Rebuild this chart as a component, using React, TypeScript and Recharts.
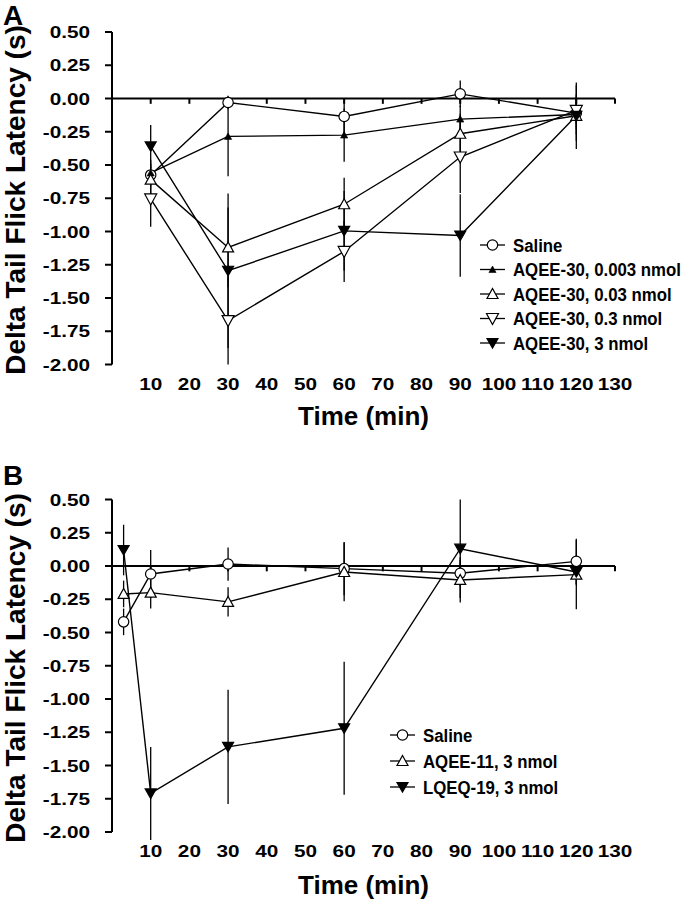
import React from "react";
import { ErrorBar, Line, LineChart, ReferenceLine, XAxis, YAxis } from "recharts";

const FONT = '"Liberation Sans", Arial, Helvetica, sans-serif';

// panel A: AQEE-30 dose series, time in min
const TIMES_A = [10, 30, 60, 90, 120];
const SALINE_A = [-0.575, -0.03, -0.135, 0.035, -0.11];
const SALINE_A_SEM = [0.06, 0.05, 0.13, 0.1, 0.21];
const AQEE30_0003 = [-0.56, -0.285, -0.275, -0.155, -0.12];
const AQEE30_0003_SEM = [0.1, 0.3, 0.2, 0.1, 0.15];
const AQEE30_003 = [-0.61, -1.12, -0.795, -0.265, -0.13];
const AQEE30_003_SEM = [0.12, 0.3, 0.2, 0.15, 0.1];
const AQEE30_03 = [-0.755, -1.67, -1.15, -0.44, -0.09];
const AQEE30_03_SEM = [0.21, 0.33, 0.23, 0.27, 0.1];
const AQEE30_3 = [-0.36, -1.295, -0.995, -1.03, -0.13];
const AQEE30_3_SEM = [0.16, 0.58, 0.3, 0.31, 0.25];

// panel B
const TIMES_B = [3, 10, 30, 60, 90, 120];
const SALINE_B = [-0.42, -0.06, 0.015, -0.02, -0.055, 0.035];
const SALINE_B_SEM = [0.1, 0.18, 0.125, 0.2, 0.1, 0.17];
const AQEE11_3 = [-0.21, -0.2, -0.27, -0.045, -0.105, -0.065];
const AQEE11_3_SEM = [0.1, 0.12, 0.11, 0.22, 0.17, 0.26];
const LQEQ19_3 = [0.12, -1.71, -1.36, -1.22, 0.13, -0.045];
const LQEQ19_3_SEM = [0.19, 0.35, 0.43, 0.5, 0.37, 0.1];

const X_TICKS = [10, 20, 30, 40, 50, 60, 70, 80, 90, 100, 110, 120, 130];
const Y_TICKS = [0.5, 0.25, 0, -0.25, -0.5, -0.75, -1, -1.25, -1.5, -1.75, -2];

type Kind = "circle" | "triSmall" | "triUp" | "triDown" | "triDownFilled";

const SERIES_A = [
  { key: "saline", name: "Saline", kind: "circle" as Kind, vals: SALINE_A, sem: SALINE_A_SEM },
  { key: "a0003", name: "AQEE-30, 0.003 nmol", kind: "triSmall" as Kind, vals: AQEE30_0003, sem: AQEE30_0003_SEM },
  { key: "a003", name: "AQEE-30, 0.03 nmol", kind: "triUp" as Kind, vals: AQEE30_003, sem: AQEE30_003_SEM },
  { key: "a03", name: "AQEE-30, 0.3 nmol", kind: "triDown" as Kind, vals: AQEE30_03, sem: AQEE30_03_SEM },
  { key: "a3", name: "AQEE-30, 3 nmol", kind: "triDownFilled" as Kind, vals: AQEE30_3, sem: AQEE30_3_SEM },
];

const SERIES_B = [
  { key: "saline", name: "Saline", kind: "circle" as Kind, vals: SALINE_B, sem: SALINE_B_SEM },
  { key: "aqee11", name: "AQEE-11, 3 nmol", kind: "triUp" as Kind, vals: AQEE11_3, sem: AQEE11_3_SEM },
  { key: "lqeq19", name: "LQEQ-19, 3 nmol", kind: "triDownFilled" as Kind, vals: LQEQ19_3, sem: LQEQ19_3_SEM },
];

type Series = (typeof SERIES_A)[number];

function buildRows(times: number[], series: Series[]) {
  return times.map((t, i) => {
    const row: Record<string, number> = { t };
    series.forEach((s) => {
      row[s.key] = s.vals[i];
      row[s.key + "Err"] = s.sem[i];
    });
    return row;
  });
}

function Marker({ kind, cx, cy }: { kind: Kind; cx: number; cy: number }) {
  const sw = 1.2;
  switch (kind) {
    case "circle":
      return <circle cx={cx} cy={cy} r={5.2} fill="#fff" stroke="#000" strokeWidth={sw} />;
    case "triSmall":
      return <polygon points={`${cx - 3.6},${cy + 3} ${cx + 3.6},${cy + 3} ${cx},${cy - 3.5}`} fill="#000" stroke="#000" strokeWidth={0.6} />;
    case "triUp":
      return <polygon points={`${cx - 5.5},${cy + 4.5} ${cx + 5.5},${cy + 4.5} ${cx},${cy - 5.5}`} fill="#fff" stroke="#000" strokeWidth={sw} />;
    case "triDown":
      return <polygon points={`${cx - 6},${cy - 5} ${cx + 6},${cy - 5} ${cx},${cy + 6}`} fill="#fff" stroke="#000" strokeWidth={sw} />;
    case "triDownFilled":
      return <polygon points={`${cx - 5.5},${cy - 4.5} ${cx + 5.5},${cy - 4.5} ${cx},${cy + 5}`} fill="#000" stroke="#000" strokeWidth={sw} />;
  }
  return null;
}

// tick text in the source is a wide bold sans, so stretch it a bit
const TICK_STRETCH = 1.22;

function XTick(props: any) {
  const { x, y, payload } = props;
  return (
    <text
      transform={`translate(${x},${y + 25}) scale(${TICK_STRETCH},1)`}
      textAnchor="middle"
      fontSize={17}
      fontWeight={700}
      fontFamily={FONT}
      fill="#000"
    >
      {payload.value}
    </text>
  );
}

function YTick(props: any) {
  const { x, y, payload } = props;
  return (
    <text
      transform={`translate(${x},${y + 6}) scale(${TICK_STRETCH},1)`}
      textAnchor="end"
      fontSize={17}
      fontWeight={700}
      fontFamily={FONT}
      fill="#000"
    >
      {Number(payload.value).toFixed(2)}
    </text>
  );
}

function Panel({ series, times, height, top }: { series: Series[]; times: number[]; height: number; top: number }) {
  const rows = buildRows(times, series);
  return (
    <LineChart width={684} height={height} data={rows} margin={{ top, right: 69, bottom: 0, left: 0 }}>
      <XAxis
        dataKey="t"
        type="number"
        domain={[0, 130]}
        ticks={X_TICKS}
        axisLine={false}
        tickLine={false}
        tickSize={0}
        tickMargin={0}
        height={height - top - 332.5}
        tick={<XTick />}
        interval={0}
      />
      <YAxis
        type="number"
        domain={[-2, 0.5]}
        allowDataOverflow
        ticks={Y_TICKS}
        interval={0}
        width={112}
        tickSize={7}
        tickMargin={15}
        axisLine={{ stroke: "#000", strokeWidth: 2 }}
        tickLine={{ stroke: "#000", strokeWidth: 2 }}
        tick={<YTick />}
      />
      <ReferenceLine y={0} stroke="#000" strokeWidth={2} />
      {X_TICKS.map((t) => (
        <ReferenceLine key={t} segment={[{ x: t, y: 0 }, { x: t, y: -0.04 }]} stroke="#000" strokeWidth={2} />
      ))}
      {series.map((s) => (
        <Line
          key={s.key}
          dataKey={s.key}
          stroke="#000"
          strokeWidth={1.4}
          isAnimationActive={false}
          activeDot={false}
          dot={(p: any) => <Marker key={`${s.key}-${p.index}`} kind={s.kind} cx={p.cx} cy={p.cy} />}
        >
          <ErrorBar dataKey={s.key + "Err"} direction="y" width={0} stroke="#000" strokeWidth={1.3} />
        </Line>
      ))}
    </LineChart>
  );
}

function Legend({ series, x, y, step }: { series: Series[]; x: number; y: number; step: number }) {
  return (
    <g>
      {series.map((s, i) => {
        const cy = y + i * step;
        return (
          <g key={s.key}>
            <line x1={x} x2={x + 25} y1={cy} y2={cy} stroke="#000" strokeWidth={1.3} />
            <Marker kind={s.kind} cx={x + 12.5} cy={cy} />
            <text
              transform={`translate(${x + 33},${cy + 6.5}) scale(1,1.08)`}
              fontSize={16.8}
              fontWeight={700}
              fontFamily={FONT}
              fill="#000"
            >
              {s.name}
            </text>
          </g>
        );
      })}
    </g>
  );
}

export default function App() {
  const label = { fontFamily: FONT, fontWeight: 700, fill: "#000" };
  return (
    <div style={{ position: "absolute", left: 0, top: 0, width: 684, height: 899, background: "#fff" }}>
      <div style={{ position: "absolute", left: 0, top: 0 }}>
        <Panel series={SERIES_A} times={TIMES_A} height={440} top={32} />
      </div>
      <div style={{ position: "absolute", left: 0, top: 440 }}>
        <Panel series={SERIES_B} times={TIMES_B} height={459} top={59.5} />
      </div>
      <svg width={684} height={899} style={{ position: "absolute", left: 0, top: 0, pointerEvents: "none" }}>
        <text x={3} y={25} fontSize={28} {...label}>A</text>
        <text x={3} y={485} fontSize={28} {...label}>B</text>
        <text transform="translate(25,200) rotate(-90)" textAnchor="middle" fontSize={28} {...label}>
          Delta Tail Flick Latency (s)
        </text>
        <text transform="translate(25,668) rotate(-90)" textAnchor="middle" fontSize={28} {...label}>
          Delta Tail Flick Latency (s)
        </text>
        <text x={363.5} y={425} textAnchor="middle" fontSize={26} {...label}>Time (min)</text>
        <text x={363.5} y={894} textAnchor="middle" fontSize={26} {...label}>Time (min)</text>
        <Legend series={SERIES_A} x={480} y={245} step={24.5} />
        <Legend series={SERIES_B} x={390} y={735} step={26} />
      </svg>
    </div>
  );
}
